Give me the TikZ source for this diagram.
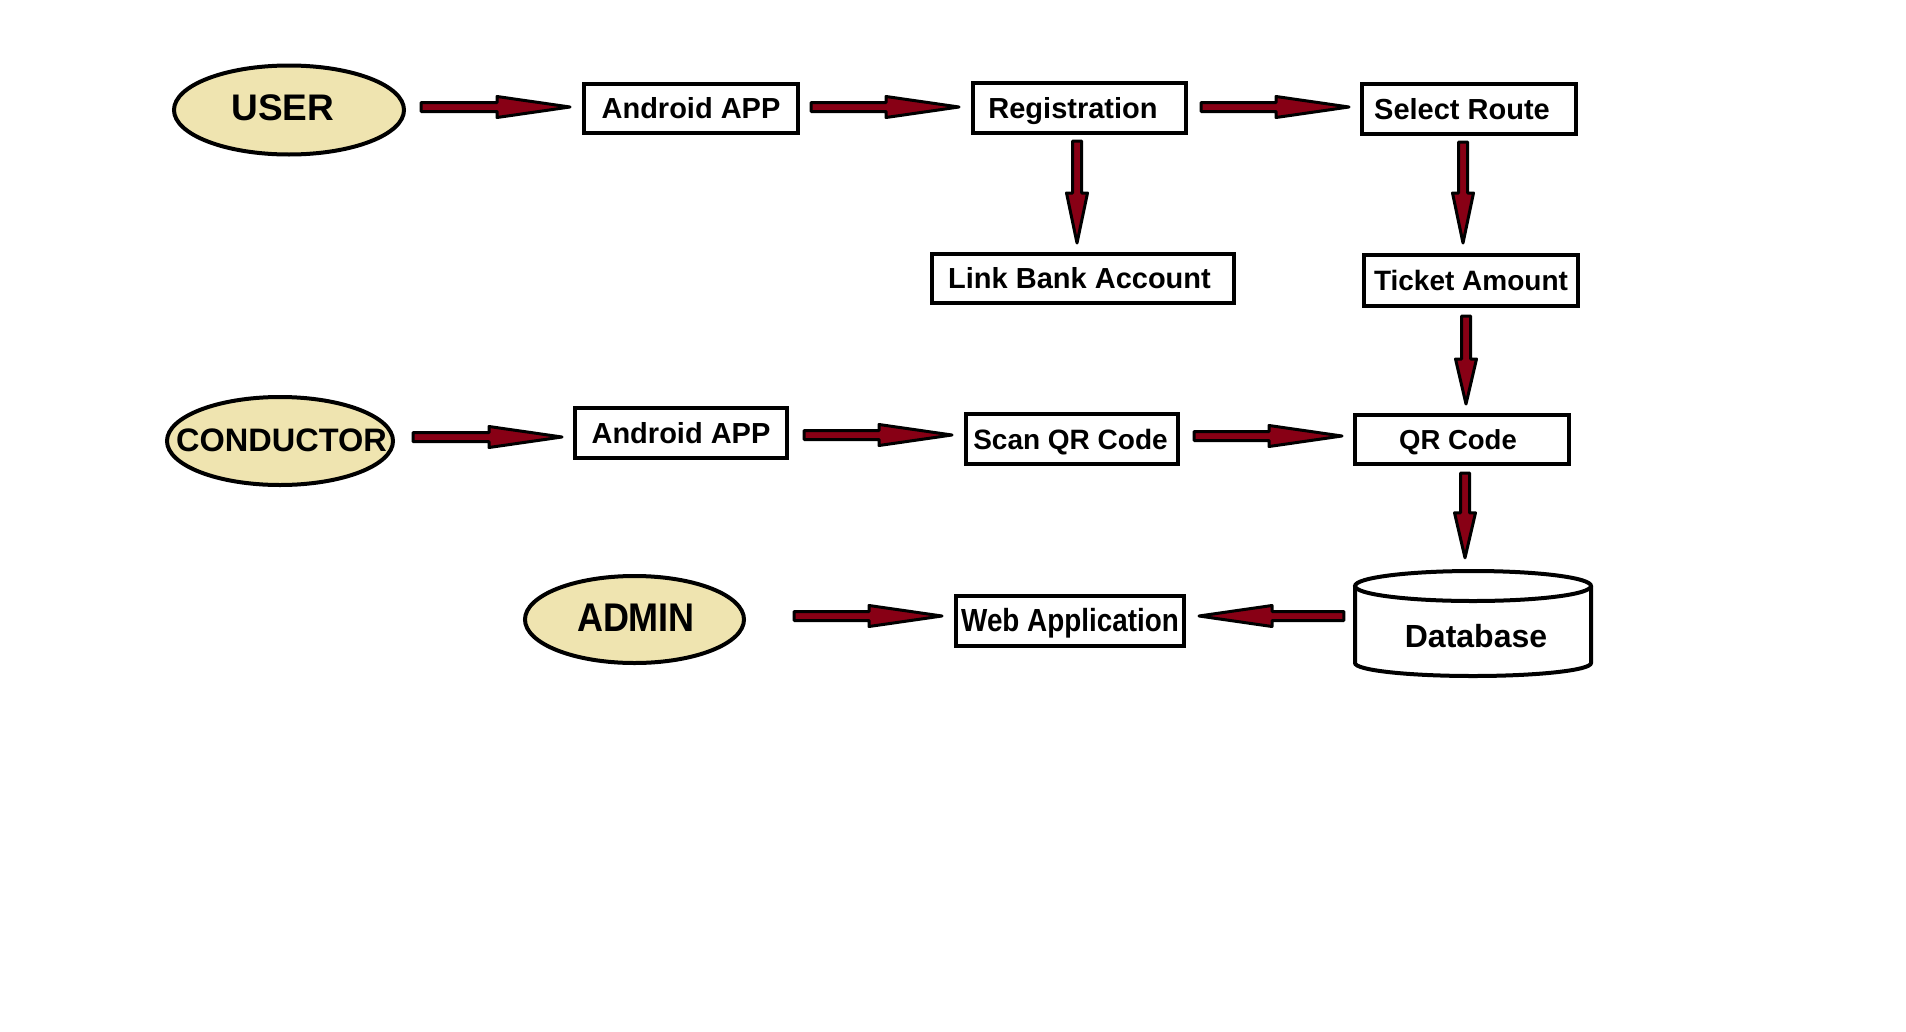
\documentclass[tikz,border=0pt]{standalone}
\usepackage{fontspec}
\setmainfont{Liberation Sans}
\usetikzlibrary{calc,shapes.geometric}
\definecolor{actorfill}{HTML}{EFE4B0}
\definecolor{arrred}{HTML}{880015}
\tikzset{
  actor/.style={ellipse, draw=black, line width=4pt, fill=actorfill, inner sep=0pt},
  atext/.style={inner sep=0pt, font=\bfseries\fontsize{#1}{#1}\selectfont},
  box/.style={rectangle, draw=black, line width=4pt, fill=white, inner sep=0pt,
    text height=20pt, text depth=0pt, font=\bfseries\fontsize{#1}{#1}\selectfont},
  fat/.style={fill=arrred, draw=black, line width=3pt, line join=round},
  dbline/.style={draw=black, line width=4pt, fill=white},
}
\newcommand\fatarrow[3]{%
  \coordinate (fa-s) at #1;
  \coordinate (fa-e) at #2;
  \coordinate (fa-h) at ($(fa-e)!#3!(fa-s)$);
  \draw[fat] ($(fa-s)!4.5pt!90:(fa-e)$) -- ($(fa-h)!4.5pt!-90:(fa-s)$)
    -- ($(fa-h)!10.5pt!-90:(fa-s)$) -- (fa-e) -- ($(fa-h)!10.5pt!90:(fa-s)$)
    -- ($(fa-h)!4.5pt!90:(fa-s)$) -- ($(fa-s)!4.5pt!-90:(fa-e)$) -- cycle;
}
\begin{document}
\begin{tikzpicture}[x=1pt,y=-1pt]
\useasboundingbox (0,0) rectangle (1906,1031);
\fill[white] (0,0) rectangle (1906,1031);

% actors
\node[actor, minimum width=230pt, minimum height=89pt] (user) at (289,110) {};
\node[atext=37] (usert) at (283,108) {USER};
\node[actor, minimum width=226pt, minimum height=88pt] (cond) at (280,441) {};
\node[atext=32.5] (condt) at (281.5,440) {CONDUCTOR};
\node[actor, minimum width=219pt, minimum height=87pt] (admin) at (634.5,619.5) {};
\node[atext=40] (admint) at (636,618) {\scalebox{0.9}[1]{ADMIN}};

% boxes
\node[box=29, minimum width=214pt, minimum height=49pt] (app1) at (691,108.5) {Android APP};
\node[box=29, minimum width=213pt, minimum height=50pt] (reg) at (1079.5,108) {\hspace*{-13pt}Registration};
\node[box=29, minimum width=214pt, minimum height=50pt] (sr) at (1469,109) {\hspace*{-14pt}Select Route};
\node[box=29, minimum width=302pt, minimum height=49pt] (lba) at (1083,278.5) {\hspace*{-7pt}Link Bank Account};
\node[box=28, minimum width=214pt, minimum height=51pt] (ta) at (1471,280.5) {Ticket Amount};
\node[box=29, minimum width=212pt, minimum height=50pt] (app2) at (681,433) {Android APP};
\node[box=28, minimum width=212pt, minimum height=50pt] (scan) at (1072,439) {\hspace*{-3pt}Scan QR Code};
\node[box=27.5, minimum width=214pt, minimum height=49pt] (qr) at (1462,439.5) {\hspace*{-8pt}QR Code};
\node[box=32, minimum width=228pt, minimum height=50pt] (web) at (1070,621) {\scalebox{0.87}[1]{Web Application}};

% database
\node[rectangle, inner sep=0pt, minimum width=240pt, minimum height=106pt] (db) at (1473,624) {};
\draw[dbline] (1355,586) -- (1355,663) arc[start angle=180, end angle=360, x radius=118pt, y radius=13pt] -- (1591,586);
\draw[dbline] (1473,586) ellipse [x radius=118pt, y radius=15pt];
\node[atext=32] (dbt) at (1476,636) {Database};

% connectors
\fatarrow{($(user.east)+(15,-3)$)}{($(app1.west)+(-12,-1.5)$)}{73pt}
\fatarrow{($(app1.east)+(11,-1.5)$)}{($(reg.west)+(-12,-1)$)}{73pt}
\fatarrow{($(reg.east)+(13,-1)$)}{($(sr.west)+(-11,-2)$)}{73pt}
\fatarrow{($(reg.south)+(-2.5,6)$)}{($(lba.north)+(-6,-9)$)}{50pt}
\fatarrow{($(sr.south)+(-6,6)$)}{($(ta.north)+(-8,-10)$)}{50pt}
\fatarrow{($(ta.south)+(-5,8)$)}{($(qr.north)+(4,-9)$)}{45pt}
\fatarrow{($(qr.south)+(3,7)$)}{($(db.north)+(-8,-13)$)}{45pt}
\fatarrow{($(cond.east)+(18,-4)$)}{($(app2.west)+(-11,4)$)}{73pt}
\fatarrow{($(app2.east)+(15,2)$)}{($(scan.west)+(-12,-4)$)}{73pt}
\fatarrow{($(scan.east)+(14,-3)$)}{($(qr.west)+(-11,-3.5)$)}{73pt}
\fatarrow{($(admin.east)+(48,-3.5)$)}{($(web.west)+(-12,-5)$)}{73pt}
\fatarrow{($(db.west)+(-9,-8)$)}{($(web.east)+(13,-5)$)}{73pt}
\end{tikzpicture}
\end{document}
